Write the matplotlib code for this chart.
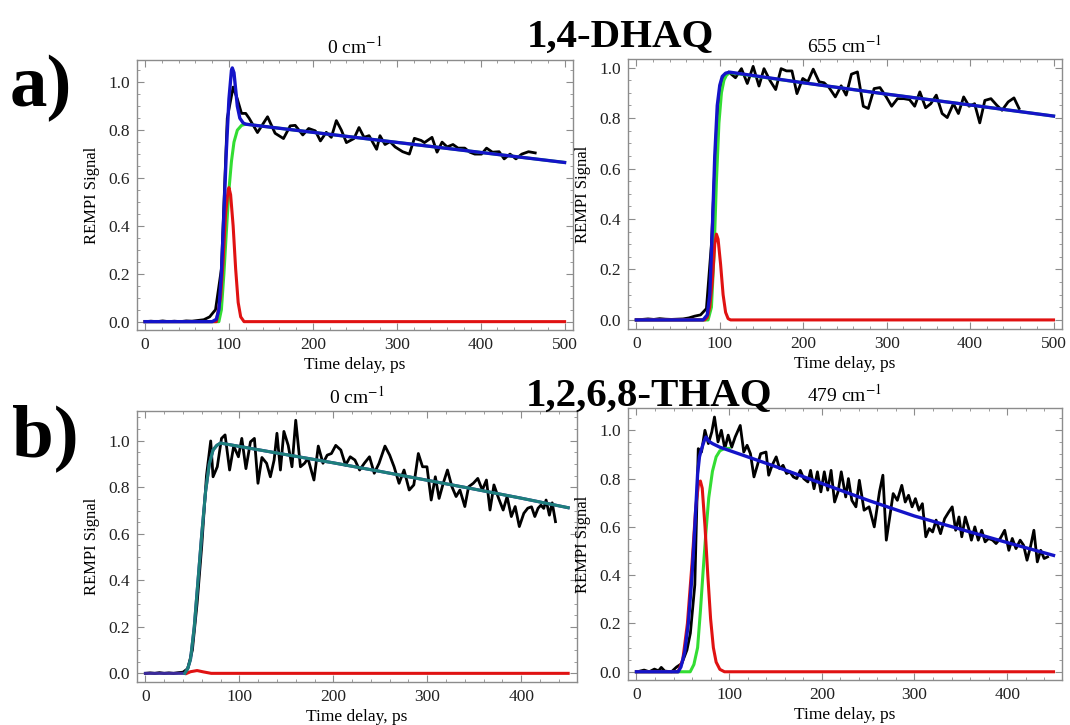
import matplotlib
matplotlib.use("Agg")
import matplotlib.pyplot as plt
from matplotlib.ticker import MultipleLocator

plt.rcParams['font.family'] = ['Liberation Serif', 'DejaVu Serif']
plt.rcParams['mathtext.fontset'] = 'stix'

# ---------------- Panel a (1,4-DHAQ), 0 cm-1 ----------------
a0_data_t = [0, 7, 14, 21, 28, 35, 42, 49, 56, 63, 70, 77, 84, 91, 98, 105, 110, 115,
             120, 124, 134, 146, 155, 165, 173, 179, 188, 195, 203, 209, 216, 222, 228,
             234, 240, 249, 255, 261, 267, 276, 280, 286, 292, 298, 307, 315, 321, 329,
             333, 342, 348, 354, 360, 367, 373, 381, 387, 393, 401, 407, 414, 422, 428,
             435, 442, 449, 457, 465]
a0_data_v = [0.0, 0.002, 0.0, 0.003, 0.0, 0.002, 0.0, 0.003, 0.002, 0.005, 0.008, 0.02,
             0.05, 0.22, 0.85, 0.98, 0.93, 0.87, 0.87, 0.85, 0.79, 0.856, 0.787, 0.765,
             0.818, 0.82, 0.78, 0.807, 0.797, 0.755, 0.791, 0.77, 0.84, 0.80, 0.748, 0.765,
             0.811, 0.77, 0.777, 0.72, 0.777, 0.74, 0.752, 0.73, 0.71, 0.70, 0.766, 0.757,
             0.748, 0.77, 0.708, 0.75, 0.73, 0.74, 0.725, 0.725, 0.708, 0.70, 0.70, 0.725,
             0.708, 0.71, 0.68, 0.70, 0.68, 0.70, 0.71, 0.705]
a0_total_t = [0, 80, 85, 88, 91, 94, 97, 100, 103, 104, 106, 108, 110, 113, 117, 120,
              200, 300, 400, 500]
a0_total_v = [0, 0.0, 0.01, 0.05, 0.2, 0.45, 0.72, 0.93, 1.05, 1.06, 1.04, 0.97, 0.9,
              0.85, 0.83, 0.825, 0.791, 0.749, 0.707, 0.665]
a0_slow_t = [0, 88, 91, 94, 97, 100, 103, 106, 110, 115, 120, 200, 300, 400, 500]
a0_slow_v = [0, 0.0, 0.05, 0.2, 0.38, 0.55, 0.67, 0.75, 0.8, 0.82, 0.825, 0.791, 0.749,
             0.707, 0.665]
a0_fast_t = [0, 85, 90, 93, 96, 99, 100, 102, 105, 108, 111, 114, 118, 500]
a0_fast_v = [0, 0.0, 0.1, 0.25, 0.45, 0.55, 0.56, 0.53, 0.4, 0.22, 0.08, 0.02, 0.0, 0.0]

# ---------------- Panel a (1,4-DHAQ), 655 cm-1 ----------------
a655_data_t = [0, 7, 14, 21, 28, 35, 42, 49, 56, 63, 70, 77, 84, 90, 96, 103, 110.6,
               118.8, 126, 133, 140, 147, 153, 160, 167, 173.5, 180, 186.5, 192.5, 199.5,
               205.5, 212, 219, 225, 231, 238.5, 245.5, 251.5, 257.8, 265, 272, 278, 285,
               292, 299.5, 306, 313, 320.6, 327.5, 333.6, 339.8, 346.7, 352.9, 359.5,
               366.5, 372.6, 380, 386, 392.3, 398.8, 405.4, 411.6, 417.7, 425, 432,
               438.3, 445.6, 452.6, 458.7]
a655_data_v = [0.0, 0.002, 0.004, 0.002, 0.005, 0.003, 0.002, 0.003, 0.004, 0.008, 0.015,
               0.02, 0.045, 0.3, 0.75, 0.95, 0.983, 0.96, 0.996, 0.937, 1.005, 0.927,
               0.996, 0.95, 0.913, 0.996, 0.987, 0.987, 0.897, 0.957, 0.944, 0.994, 0.944,
               0.94, 0.921, 0.884, 0.928, 0.891, 0.974, 0.983, 0.847, 0.838, 0.917, 0.921,
               0.884, 0.847, 0.877, 0.877, 0.873, 0.847, 0.904, 0.841, 0.857, 0.891,
               0.818, 0.802, 0.857, 0.818, 0.884, 0.847, 0.857, 0.781, 0.870, 0.877,
               0.851, 0.831, 0.864, 0.880, 0.838]
a655_total_t = [0, 80, 85, 88, 91, 94, 97, 100, 103, 107, 112, 200, 300, 400, 500]
a655_total_v = [0, 0.0, 0.02, 0.1, 0.35, 0.65, 0.85, 0.93, 0.965, 0.978, 0.982, 0.94,
                0.895, 0.852, 0.808]
a655_slow_t = [0, 86, 90, 93, 96, 99, 102, 105, 108, 112, 200, 300, 400, 500]
a655_slow_v = [0, 0.0, 0.05, 0.25, 0.55, 0.78, 0.9, 0.95, 0.97, 0.98, 0.94, 0.895,
               0.852, 0.808]
a655_fast_t = [0, 82, 85, 88, 91, 94, 96, 98, 101, 104, 107, 110, 113, 500]
a655_fast_v = [0, 0.0, 0.01, 0.05, 0.15, 0.3, 0.34, 0.32, 0.22, 0.1, 0.03, 0.005, 0.0, 0.0]

# ---------------- Panel b (1,2,6,8-THAQ), 0 cm-1 ----------------
b0_data_t = [0, 5, 10, 15, 20, 25, 30, 35, 40, 45, 50, 55, 60, 65, 69.5, 72, 76.5, 81,
             84.8, 89.6, 94, 99, 102.6, 107, 111.8, 116, 119.8, 124, 129, 133, 137, 140,
             143.7, 147.4, 152, 156, 160, 165, 169.4, 173, 179.4, 184, 189, 193.5, 198,
             202.6, 208, 213, 218, 223, 228, 233, 238.5, 243.6, 248.7, 255, 260, 264.7,
             270, 275.3, 280.8, 285.7, 290.5, 295, 299.7, 304.2, 308.6, 312.6, 317,
             321.5, 326.3, 330.7, 334.8, 340, 344, 349, 353.8, 358.6, 363, 366.8, 371,
             376, 380.8, 385, 389.5, 393.6, 398, 402.8, 407, 411, 414.5, 418, 421, 424,
             426.5, 430, 433, 436.5]
b0_data_v = [0.0, 0.002, 0.0, 0.003, 0.0, 0.002, 0.0, 0.003, 0.005, 0.02, 0.1, 0.3,
             0.55, 0.85, 0.999, 0.845, 0.888, 1.01, 1.025, 0.874, 0.977, 0.931, 1.01,
             0.88, 0.995, 1.01, 0.817, 0.928, 0.903, 0.845, 0.917, 1.032, 0.874, 1.04,
             0.98, 0.888, 1.088, 0.888, 0.903, 0.924, 0.831, 0.977, 0.903, 0.938, 0.945,
             0.98, 0.96, 0.895, 0.931, 0.917, 0.874, 0.903, 0.931, 0.86, 0.903, 0.977,
             0.938, 0.888, 0.817, 0.874, 0.788, 0.81, 0.945, 0.888, 0.888, 0.745, 0.845,
             0.752, 0.817, 0.874, 0.802, 0.76, 0.788, 0.717, 0.802, 0.817, 0.838, 0.788,
             0.831, 0.702, 0.81, 0.752, 0.702, 0.76, 0.674, 0.717, 0.631, 0.688, 0.71,
             0.716, 0.674, 0.71, 0.723, 0.709, 0.745, 0.68, 0.733, 0.652]
b0_total_t = [0, 42, 45, 48, 52, 56, 60, 64, 68, 72, 76, 80, 84, 150, 200, 250, 300, 350,
              400, 450]
b0_total_v = [0, 0.0, 0.02, 0.06, 0.2, 0.4, 0.6, 0.78, 0.9, 0.96, 0.98, 0.99, 0.987, 0.94,
              0.905, 0.868, 0.83, 0.792, 0.753, 0.712]
b0_slow_t = [42, 45, 48, 52, 56, 60, 64, 68, 72, 76, 80, 84, 150, 200, 250, 300, 350,
             400, 450]
b0_slow_v = [0.0, 0.02, 0.06, 0.2, 0.4, 0.6, 0.78, 0.9, 0.96, 0.98, 0.99, 0.987, 0.94,
             0.905, 0.868, 0.83, 0.792, 0.753, 0.712]
b0_fast_t = [44, 48, 55, 62, 70, 450]
b0_fast_v = [0.0, 0.007, 0.012, 0.006, 0.0, 0.0]

# ---------------- Panel b (1,2,6,8-THAQ), 479 cm-1 ----------------
b479_data_t = [0.9, 8.3, 13.8, 19.4, 23.8, 26.8, 30.5, 37.8, 43.4, 48.9, 54.5, 58.2, 63,
               66.7, 70.2, 73.9, 77.6, 81.3, 84.2, 88, 91.6, 95.4, 99, 102.8, 106.5, 112,
               115.8, 119.4, 123, 126.8, 130.5, 134, 139.8, 142.7, 146.4, 150.8, 154.5,
               158.2, 162, 165.6, 169.3, 173, 176.8, 180.5, 185, 187.9, 191.6, 195.3, 199,
               202.7, 206.4, 210, 213.8, 217.5, 221, 225.8, 228.7, 232.4, 236.8, 240.5,
               245.6, 251, 256.6, 262.2, 265.9, 269.6, 273.3, 277, 281.5, 286.3, 290,
               293.6, 297.4, 301, 304.8, 308.5, 312.2, 315.9, 319.6, 323.3, 328.1, 332.5,
               337, 340.7, 344.4, 348, 351, 354.8, 358.5, 361.4, 365.1, 368.8, 372.5,
               376.2, 379.9, 384.3, 388, 392.5, 397.3, 401.8, 405.5, 409.5, 414, 417.7,
               421.4, 425.1, 428.8, 432.5, 436.2, 439.9, 443.6]
b479_data_v = [0.0, 0.007, 0.0, 0.011, 0.004, 0.018, 0.003, 0.0, 0.02, 0.034, 0.09, 0.16,
               0.36, 0.924, 0.91, 1.0, 0.945, 0.993, 1.055, 0.952, 1.0, 0.924, 0.98, 0.93,
               0.972, 1.02, 0.91, 0.938, 0.903, 0.807, 0.855, 0.903, 0.91, 0.814, 0.855,
               0.89, 0.841, 0.855, 0.821, 0.828, 0.807, 0.8, 0.834, 0.8, 0.786, 0.834,
               0.758, 0.828, 0.745, 0.828, 0.752, 0.834, 0.703, 0.745, 0.828, 0.724, 0.8,
               0.71, 0.683, 0.793, 0.669, 0.683, 0.6, 0.745, 0.814, 0.545, 0.641, 0.738,
               0.710, 0.772, 0.703, 0.731, 0.683, 0.717, 0.669, 0.696, 0.559, 0.593, 0.579,
               0.628, 0.572, 0.634, 0.662, 0.683, 0.586, 0.641, 0.559, 0.641, 0.593, 0.545,
               0.6, 0.545, 0.586, 0.538, 0.552, 0.545, 0.531, 0.552, 0.586, 0.503, 0.552,
               0.51, 0.545, 0.524, 0.462, 0.517, 0.586, 0.455, 0.503, 0.469, 0.476]
b479_total_t = [0, 45, 48, 52, 56, 60, 63, 66, 68, 70, 73, 75, 78, 82, 90, 150, 200, 250,
                300, 350, 400, 450]
b479_total_v = [0, 0.0, 0.02, 0.08, 0.2, 0.4, 0.6, 0.82, 0.89, 0.92, 0.955, 0.972, 0.955,
                0.945, 0.93, 0.85, 0.78, 0.71, 0.645, 0.59, 0.535, 0.482]
b479_slow_t = [0, 58, 62, 66, 69, 72, 75, 78, 82, 86, 90, 95, 100]
b479_slow_v = [0, 0.0, 0.03, 0.1, 0.25, 0.42, 0.58, 0.72, 0.83, 0.89, 0.915, 0.925, 0.925]
b479_fast_t = [0, 45, 50, 55, 60, 64, 67, 69, 71, 74, 77, 80, 83, 86, 90, 95, 450]
b479_fast_v = [0, 0.0, 0.05, 0.2, 0.45, 0.68, 0.78, 0.79, 0.76, 0.6, 0.4, 0.22, 0.1,
               0.04, 0.01, 0.0, 0.0]

titles = ['0 cm$^{-1}$', '655 cm$^{-1}$', '0 cm$^{-1}$', '479 cm$^{-1}$']
ylabel = 'REMPI Signal'
xlabel = 'Time delay, ps'

BLUE = '#1414c8'
GREEN = '#33dd33'
RED = '#e01212'
TEAL = '#1d7f7c'
FRAME = '#8c8c8c'

fig = plt.figure(figsize=(10.7, 7.25), dpi=100)

rects = [
    [0.1277, 0.5448, 0.4078, 0.3724],
    [0.5869, 0.5462, 0.4055, 0.3720],
    [0.1280, 0.0597, 0.4109, 0.3738],
    [0.5870, 0.0621, 0.4054, 0.3747],
]
xlims = [(-10, 510), (-10, 510), (-9, 459), (-9, 459)]
ylims = [(-0.035, 1.093), (-0.036, 1.033), (-0.036, 1.129), (-0.034, 1.091)]

axes = [fig.add_axes(r) for r in rects]

def style(ax, i):
    ax.set_xlim(*xlims[i])
    ax.set_ylim(*ylims[i])
    ax.xaxis.set_major_locator(MultipleLocator(100))
    ax.xaxis.set_minor_locator(MultipleLocator(20))
    ax.yaxis.set_major_locator(MultipleLocator(0.2))
    ax.yaxis.set_minor_locator(MultipleLocator(0.05))
    ax.yaxis.set_major_formatter(plt.FuncFormatter(lambda v, p: f'{v:.1f}'))
    ax.tick_params(which='both', direction='in', top=True, right=True, color=FRAME,
                   labelsize=12.5, labelcolor='#222222')
    ax.tick_params(which='major', length=5, width=0.8, pad=5)
    ax.tick_params(which='minor', length=2.5, width=0.6)
    for s in ax.spines.values():
        s.set_color(FRAME)
        s.set_linewidth(1.0)
    ax.set_title(titles[i], fontsize=14, pad=5)
    ax.set_ylabel(ylabel, fontsize=12, labelpad=6)
    ax.set_xlabel(xlabel, fontsize=12.5, labelpad=3)

# a) 0 cm-1
ax = axes[0]
ax.plot(a0_data_t, a0_data_v, color='black', lw=2.0, zorder=2)
ax.plot(a0_slow_t, a0_slow_v, color=GREEN, lw=2.2, zorder=3)
ax.plot(a0_fast_t, a0_fast_v, color=RED, lw=2.2, zorder=4)
ax.plot(a0_total_t, a0_total_v, color=BLUE, lw=2.4, zorder=5)
style(ax, 0)

# a) 655 cm-1
ax = axes[1]
ax.plot(a655_data_t, a655_data_v, color='black', lw=2.0, zorder=2)
ax.plot(a655_slow_t, a655_slow_v, color=GREEN, lw=2.2, zorder=3)
ax.plot(a655_fast_t, a655_fast_v, color=RED, lw=2.2, zorder=4)
ax.plot(a655_total_t, a655_total_v, color=BLUE, lw=2.4, zorder=5)
style(ax, 1)

# b) 0 cm-1
ax = axes[2]
ax.plot(b0_data_t, b0_data_v, color='black', lw=2.0, zorder=2)
ax.plot(b0_total_t, b0_total_v, color='#3a2a9a', lw=2.2, zorder=3)
ax.plot(b0_fast_t, b0_fast_v, color=RED, lw=2.2, zorder=4)
ax.plot(b0_slow_t, b0_slow_v, color=TEAL, lw=2.2, zorder=5)
style(ax, 2)

# b) 479 cm-1
ax = axes[3]
ax.plot(b479_data_t, b479_data_v, color='black', lw=2.0, zorder=2)
ax.plot(b479_slow_t, b479_slow_v, color=GREEN, lw=2.2, zorder=3)
ax.plot(b479_fast_t, b479_fast_v, color=RED, lw=2.2, zorder=4)
ax.plot(b479_total_t, b479_total_v, color=BLUE, lw=2.4, zorder=5)
style(ax, 3)

fig.text(10 / 1070, 1 - 106 / 725, 'a)', fontsize=54, fontweight='bold', ha='left',
         va='baseline')
fig.text(12 / 1070, 1 - 456 / 725, 'b)', fontsize=54, fontweight='bold', ha='left',
         va='baseline')
fig.text(620 / 1070, 1 - 47 / 725, '1,4-DHAQ', fontsize=29.5, fontweight='bold',
         ha='center', va='baseline')
fig.text(649 / 1070, 1 - 406 / 725, '1,2,6,8-THAQ', fontsize=29.5, fontweight='bold',
         ha='center', va='baseline')

fig.savefig('out.png', dpi=100)
